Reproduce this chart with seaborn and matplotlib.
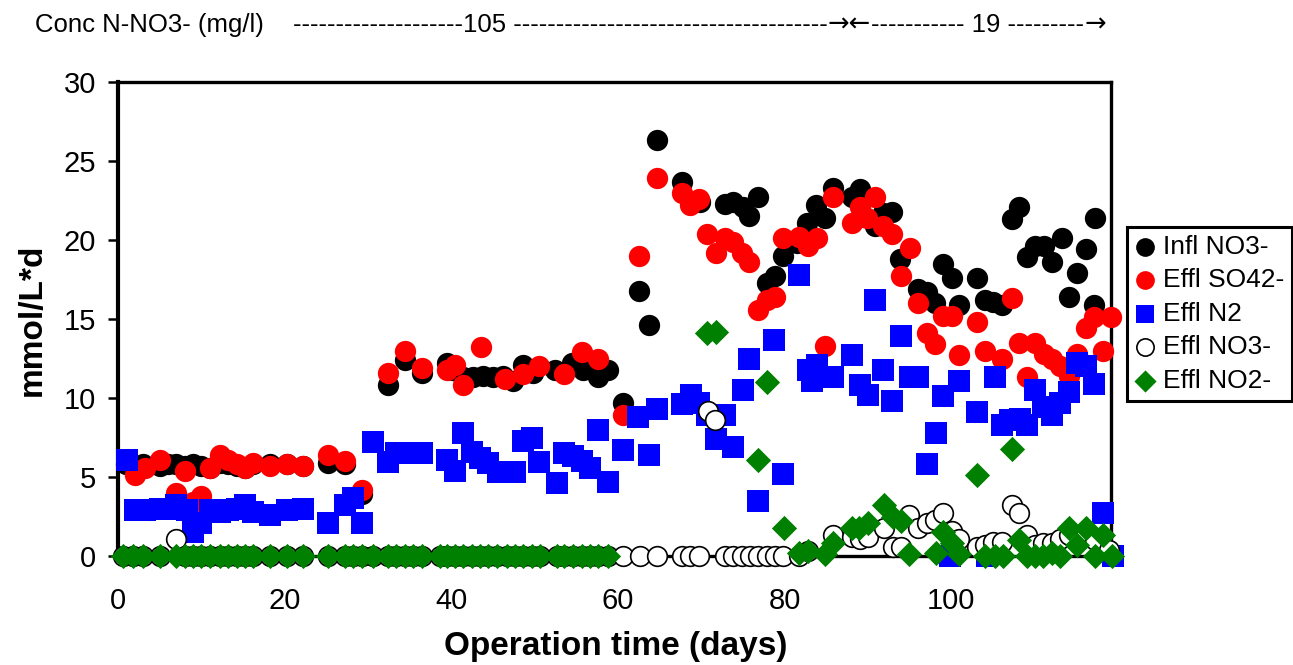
import matplotlib
matplotlib.use("Agg")
import matplotlib.pyplot as plt
import seaborn as sns
import pandas as pd

# ---------------- data ----------------
infl_days = [1, 2, 3, 5, 6, 7, 8, 9, 10, 11, 12.2, 13.2, 14.3, 15.2, 16.2, 18.2, 20.3, 22.2, 25.2, 27.2, 29.3,
             32.4, 34.5, 36.5, 39.5, 40.1, 41.4, 42.6, 43.8, 45, 46.2, 47.4, 48.6, 49.8, 52.5, 54.5, 55.8, 57.6, 58.8,
             60.6, 62.5, 63.7, 64.7, 67.7, 69.9, 72.9, 73.8, 75, 75.8, 76.8, 77.9, 78.9, 79.8, 81.5, 82.7, 83.8,
             84.9, 85.8, 88.1, 89.1, 90.9, 91.8, 92.9, 93.9, 96, 97.1, 98.1, 99, 100.1, 101, 103.1, 104.1, 105,
             106.1, 107.3, 108.2, 109.1, 110.1, 111.2, 112.1, 113.3, 114.2, 115.1, 116.2, 117.3, 117.2]
infl_vals = [5.8, 5.7, 5.8, 5.7, 5.8, 5.8, 5.7, 5.8, 5.7, 5.6, 5.9, 5.8, 5.7, 5.6, 5.8, 5.8, 5.8, 5.7, 5.9, 5.8, 3.9,
             10.8, 12.4, 11.6, 12.2, 11.8, 11.3, 11.3, 11.4, 11.3, 11.4, 11.1, 12.1, 11.6, 11.8, 12.2, 11.8, 11.3, 11.8,
             9.7, 16.8, 14.6, 26.3, 23.7, 22.4, 22.3, 22.4, 22.1, 21.5, 22.7, 17.3, 17.7, 19.0, 19.8, 21.1, 22.2,
             21.4, 23.3, 22.7, 23.2, 20.9, 21.7, 21.8, 18.8, 16.9, 16.7, 16.0, 18.5, 17.6, 15.9, 17.6, 16.2, 16.1,
             15.9, 21.3, 22.1, 18.9, 19.6, 19.6, 18.6, 20.1, 16.4, 17.9, 19.4, 21.4, 15.9]

so4_days = [2, 3.2, 5, 7, 8, 9, 10, 11, 12.2, 13.2, 14.3, 15.2, 16.2, 18.2, 20.3, 22.2, 25.2, 27.2, 29.3,
            32.4, 34.5, 36.5, 39.5, 40.5, 41.4, 43.6, 46.5, 48.6, 50.5, 53.5, 55.7, 57.6,
            60.6, 62.5, 64.7, 67.7, 68.7, 69.7, 70.7, 71.8, 72.9, 73.8, 74.9, 75.8, 76.8, 77.9, 78.9, 79.8,
            81.8, 82.8, 83.9, 84.9, 85.8, 88.1, 89.1, 89.9, 90.9, 91.8, 92.9, 94, 95.1, 96, 97.1, 98.1, 99,
            100.1, 101, 103.1, 104.1, 106.1, 107.3, 108.2, 109.1, 110.1, 111.1, 112.1, 113.1, 114.2, 115.1,
            116.2, 117.2, 118.2, 119.2]
so4_vals = [5.1, 5.6, 6.1, 4.0, 5.4, 3.4, 3.8, 5.6, 6.4, 6.1, 5.8, 5.6, 5.9, 5.7, 5.8, 5.7, 6.4, 6.0, 4.2,
            11.6, 13.0, 11.9, 11.8, 12.1, 10.8, 13.2, 11.2, 11.5, 12.0, 11.5, 12.9, 12.5,
            8.9, 19.0, 23.9, 23.0, 22.2, 22.6, 20.4, 19.2, 20.1, 19.9, 19.2, 18.6, 15.6, 16.2, 16.4, 20.1,
            20.2, 19.6, 20.1, 13.3, 22.7, 21.1, 22.1, 21.4, 22.7, 20.9, 20.4, 17.7, 19.5, 16.0, 14.1, 13.4, 15.2,
            15.2, 12.7, 14.8, 13.0, 12.5, 16.3, 13.5, 11.3, 13.5, 12.8, 12.5, 12.0, 11.4, 12.8,
            14.4, 15.1, 13.0, 15.1]

n2_days = [1.1, 2, 3.2, 5, 6.2, 7, 8.3, 9, 10, 11, 12.2, 13.2, 14.3, 15.2, 16.2, 18.2, 20.3, 22.2, 25.2, 27.2, 28.2, 29.3,
           30.6, 32.4, 33.4, 34.5, 35.4, 36.5, 39.5, 40.5, 41.4, 42.5, 43.5, 44.4, 45.6, 46.7, 47.7, 48.6, 49.7, 50.5,
           52.7, 53.5, 54.6, 55.7, 56.7, 57.6, 58.8,
           60.6, 62.4, 63.7, 64.7, 67.7, 68.8, 69.7, 70.7, 71.8, 72.9, 73.8, 75, 75.8, 76.8, 78.8, 79.8, 81.8, 82.8,
           83.3, 83.9, 84.9, 85.8, 88.1, 89.1, 90, 90.9, 91.8, 92.9, 94, 95.1, 96, 97.1, 98.2, 99, 99.9, 101, 103.1,
           104.3, 105.3, 106.1, 107.1, 108.3, 109.1, 110.1, 111, 112.1, 113.1, 114.2, 115.1, 116.2, 117.2, 118.2, 119.4]
n2_vals = [6.1, 2.9, 2.9, 3.0, 3.0, 3.2, 2.9, 1.5, 2.1, 2.9, 2.8, 2.9, 3.0, 3.2, 2.8, 2.6, 2.9, 3.0, 2.1, 3.2, 3.7, 2.1,
           7.2, 5.95, 6.5, 6.5, 6.5, 6.5, 6.1, 5.4, 7.8, 6.6, 6.2, 5.9, 5.3, 5.3, 5.3, 7.3, 7.5, 5.95,
           4.6, 6.5, 6.3, 6.0, 5.6, 8.0, 4.7,
           6.7, 8.8, 6.4, 9.3, 9.6, 10.2, 9.7, 8.9, 7.4, 8.9, 6.9, 10.5, 12.5, 3.5, 13.7, 5.2, 17.8, 11.8,
           11.1, 12.1, 11.3, 11.3, 12.7, 10.8, 10.2, 16.2, 11.8, 9.8, 13.9, 11.3, 11.3, 5.8, 7.8, 10.1, 0.0, 11.1, 9.1,
           0.0, 11.3, 8.3, 8.6, 8.7, 8.3, 10.5, 9.4, 8.9, 9.7, 10.4, 12.2, 12.0, 10.9, 2.7, 0.0]

no3e_days = [0.6, 1.8, 3, 5, 7, 8, 9, 10, 11, 12.2, 13.2, 14.3, 15.2, 16.2, 18.2, 20.3, 22.2, 25.2, 27.2, 28.2,
             29.3, 30.6, 32.4, 33.4, 34.5, 35.4, 36.5, 38.6, 39.5, 40.5, 41.4, 42.5, 43.5, 44.4, 45.5, 46.7, 47.7,
             48.6, 49.7, 50.7, 52.7, 53.5, 54.6, 55.7, 56.7, 57.6, 58.8,
             60.6, 62.7, 64.7, 67.7, 68.7, 69.7, 70.8, 71.7, 72.9, 73.8, 74.9, 75.9, 76.8, 77.9, 78.9, 79.8,
             81.7, 82.8, 85.8, 88.1, 89.1, 90, 91.9, 93, 94, 95, 96, 97.1, 98.1, 99, 100.1, 101, 103.1, 104.1,
             105, 106.1, 107.3, 108.2, 109.1, 110.1, 111, 112.1, 113.1, 114.2, 116.2, 117.3, 119]
no3e_vals = [0, 0, 0, 0, 1.1, 0, 0, 0, 0, 0, 0, 0, 0, 0, 0, 0, 0, 0, 0, 0,
             0, 0, 0, 0, 0, 0, 0, 0, 0, 0, 0, 0, 0, 0, 0, 0, 0,
             0, 0, 0, 0, 0, 0, 0, 0, 0, 0,
             0, 0, 0, 0, 0, 0, 9.2, 8.6, 0, 0, 0, 0, 0, 0, 0, 0,
             0, 0.3, 1.3, 1.2, 1.1, 1.2, 1.8, 0.6, 0.6, 2.6, 1.8, 2.1, 2.3, 2.7, 1.6, 1.1, 0.6, 0.7,
             0.9, 0.9, 3.2, 2.7, 1.3, 0.7, 0.8, 0.8, 1.1, 1.3, 1.3, 1.0, 0.4]

no2_days = [0.6, 1.8, 3, 5, 7, 8, 9, 10, 11, 12.2, 13.2, 14.3, 15.2, 16.2, 18.2, 20.3, 22.2, 25.2, 27.2, 28.2,
            29.3, 30.6, 32.4, 33.4, 34.5, 35.4, 36.5, 38.6, 39.5, 40.5, 41.4, 42.5, 43.5, 44.4, 45.5, 46.7, 47.7,
            48.6, 49.7, 50.7, 52.7, 53.5, 54.6, 55.7, 56.7, 57.6, 58.8,
            70.7, 71.8, 76.8, 77.9, 80, 81.7, 82.8, 84.9, 85.8, 88.1, 89, 90, 91.9, 93, 94, 95, 98.2, 99, 100.1,
            101, 103.1, 104.1, 105.3, 106.2, 107.3, 108.2, 109.1, 110.1, 111, 112.1, 113.1, 114.2, 115.1, 116.2,
            117.3, 118.2, 119.3]
no2_vals = [0, 0, 0, 0, 0, 0, 0, 0, 0, 0, 0, 0, 0, 0, 0, 0, 0, 0, 0, 0,
            0, 0, 0, 0, 0, 0, 0, 0, 0, 0, 0, 0, 0, 0, 0, 0, 0,
            0, 0, 0, 0, 0, 0, 0, 0, 0, 0,
            14.1, 14.2, 6.1, 11.0, 1.8, 0.2, 0.3, 0.1, 0.8, 1.8, 1.8, 2.1, 3.2, 2.5, 2.2, 0.1, 0.2, 1.5, 0.8,
            0.1, 5.1, 0, 0, 0, 6.8, 1.0, 0, 0, 0, 0.2, 0, 1.8, 0.7, 1.8,
            0, 1.3, 0]

series_labels = ["Infl NO3-", "Effl SO42-", "Effl N2", "Effl NO3-", "Effl NO2-"]
x_ticks = [0, 20, 40, 60, 80, 100]
y_ticks = [0, 5, 10, 15, 20, 25, 30]
header_left = "Conc N-NO3- (mg/l)"
header_parts = [
    ("--------------------105 -------------------------------------", "Liberation Sans"),
    ("\u2192\u2190", "DejaVu Sans"),
    ("----------- 19 ---------", "Liberation Sans"),
    ("\u2192", "DejaVu Sans"),
]

# ---------------- style ----------------
sns.set_style("white")
plt.rcParams["font.family"] = ["Liberation Sans", "DejaVu Sans"]
plt.rcParams["text.color"] = "black"
plt.rcParams["axes.labelcolor"] = "black"
plt.rcParams["xtick.color"] = "black"
plt.rcParams["ytick.color"] = "black"

fig = plt.figure(figsize=(12.93, 6.65), dpi=100)
ax = fig.add_axes([118 / 1293, 1 - 556 / 665, (1111 - 118) / 1293, (556 - 82) / 665])

specs = [
    (infl_days, infl_vals, dict(marker="o", s=235, color="black", edgecolor="black", linewidth=0)),
    (so4_days, so4_vals, dict(marker="o", s=235, color="#ff0000", edgecolor="#ff0000", linewidth=0)),
    (n2_days, n2_vals, dict(marker="s", s=230, color="#0000ff", edgecolor="#0000ff", linewidth=0)),
    (no3e_days, no3e_vals, dict(marker="o", s=200, facecolor="white", edgecolor="black", linewidth=1.2)),
    (no2_days, no2_vals, dict(marker="D", s=165, color="#008000", edgecolor="#008000", linewidth=0)),
]

for (d, v, kw), lab in zip(specs, series_labels):
    df = pd.DataFrame({"day": d, "value": v})
    sns.scatterplot(data=df, x="day", y="value", ax=ax, label=lab, legend=False,
                    clip_on=False, zorder=3, **kw)

ax.set_xlim(0, 119.2)
ax.set_ylim(0, 30)
ax.set_xticks(x_ticks)
ax.set_yticks(y_ticks)
ax.tick_params(axis="x", length=0, pad=22, labelsize=21, labelcolor="black")
ax.tick_params(axis="y", direction="out", length=7, width=1.8, pad=9, labelsize=21,
               left=True, color="black", labelcolor="black")
for sp in ax.spines.values():
    sp.set_visible(True)
    sp.set_color("black")
    sp.set_linewidth(2.4)
    sp.set_zorder(2)
ax.spines["left"].set_linewidth(3)

ax.set_xlabel("Operation time (days)", fontsize=24, fontweight="bold", color="black")
ax.set_ylabel("mmol/L*d", fontsize=24, fontweight="bold", color="black")
ax.xaxis.set_label_coords(0.5015, -0.158)
ax.yaxis.set_label_coords(-0.071, 0.498)

handles, labels = ax.get_legend_handles_labels()
leg = fig.legend(handles, labels, loc="upper left",
                 bbox_to_anchor=(1127 / 1293, 1 - 227 / 665),
                 fontsize=19, frameon=True, fancybox=False, framealpha=1,
                 handlelength=0.8, handletextpad=0.25, labelspacing=0.36,
                 borderpad=0.3, borderaxespad=0, markerscale=0.88)
leg.get_frame().set_edgecolor("black")
leg.get_frame().set_linewidth(2.2)

fig.text(35 / 1293, 1 - 25 / 665, header_left, fontsize=18.5, va="center", ha="left")
prev = fig.text(293 / 1293, 1 - 25 / 665, header_parts[0][0], fontsize=18.5,
                va="center", ha="left", family=header_parts[0][1])
for txt, fam in header_parts[1:]:
    prev = ax.annotate(txt, xy=(1, 0.5), xycoords=prev, xytext=(0, 0), textcoords="offset points",
                       va="center", ha="left", fontsize=18.5, family=fam, annotation_clip=False)

fig.savefig("out.png", dpi=100)
